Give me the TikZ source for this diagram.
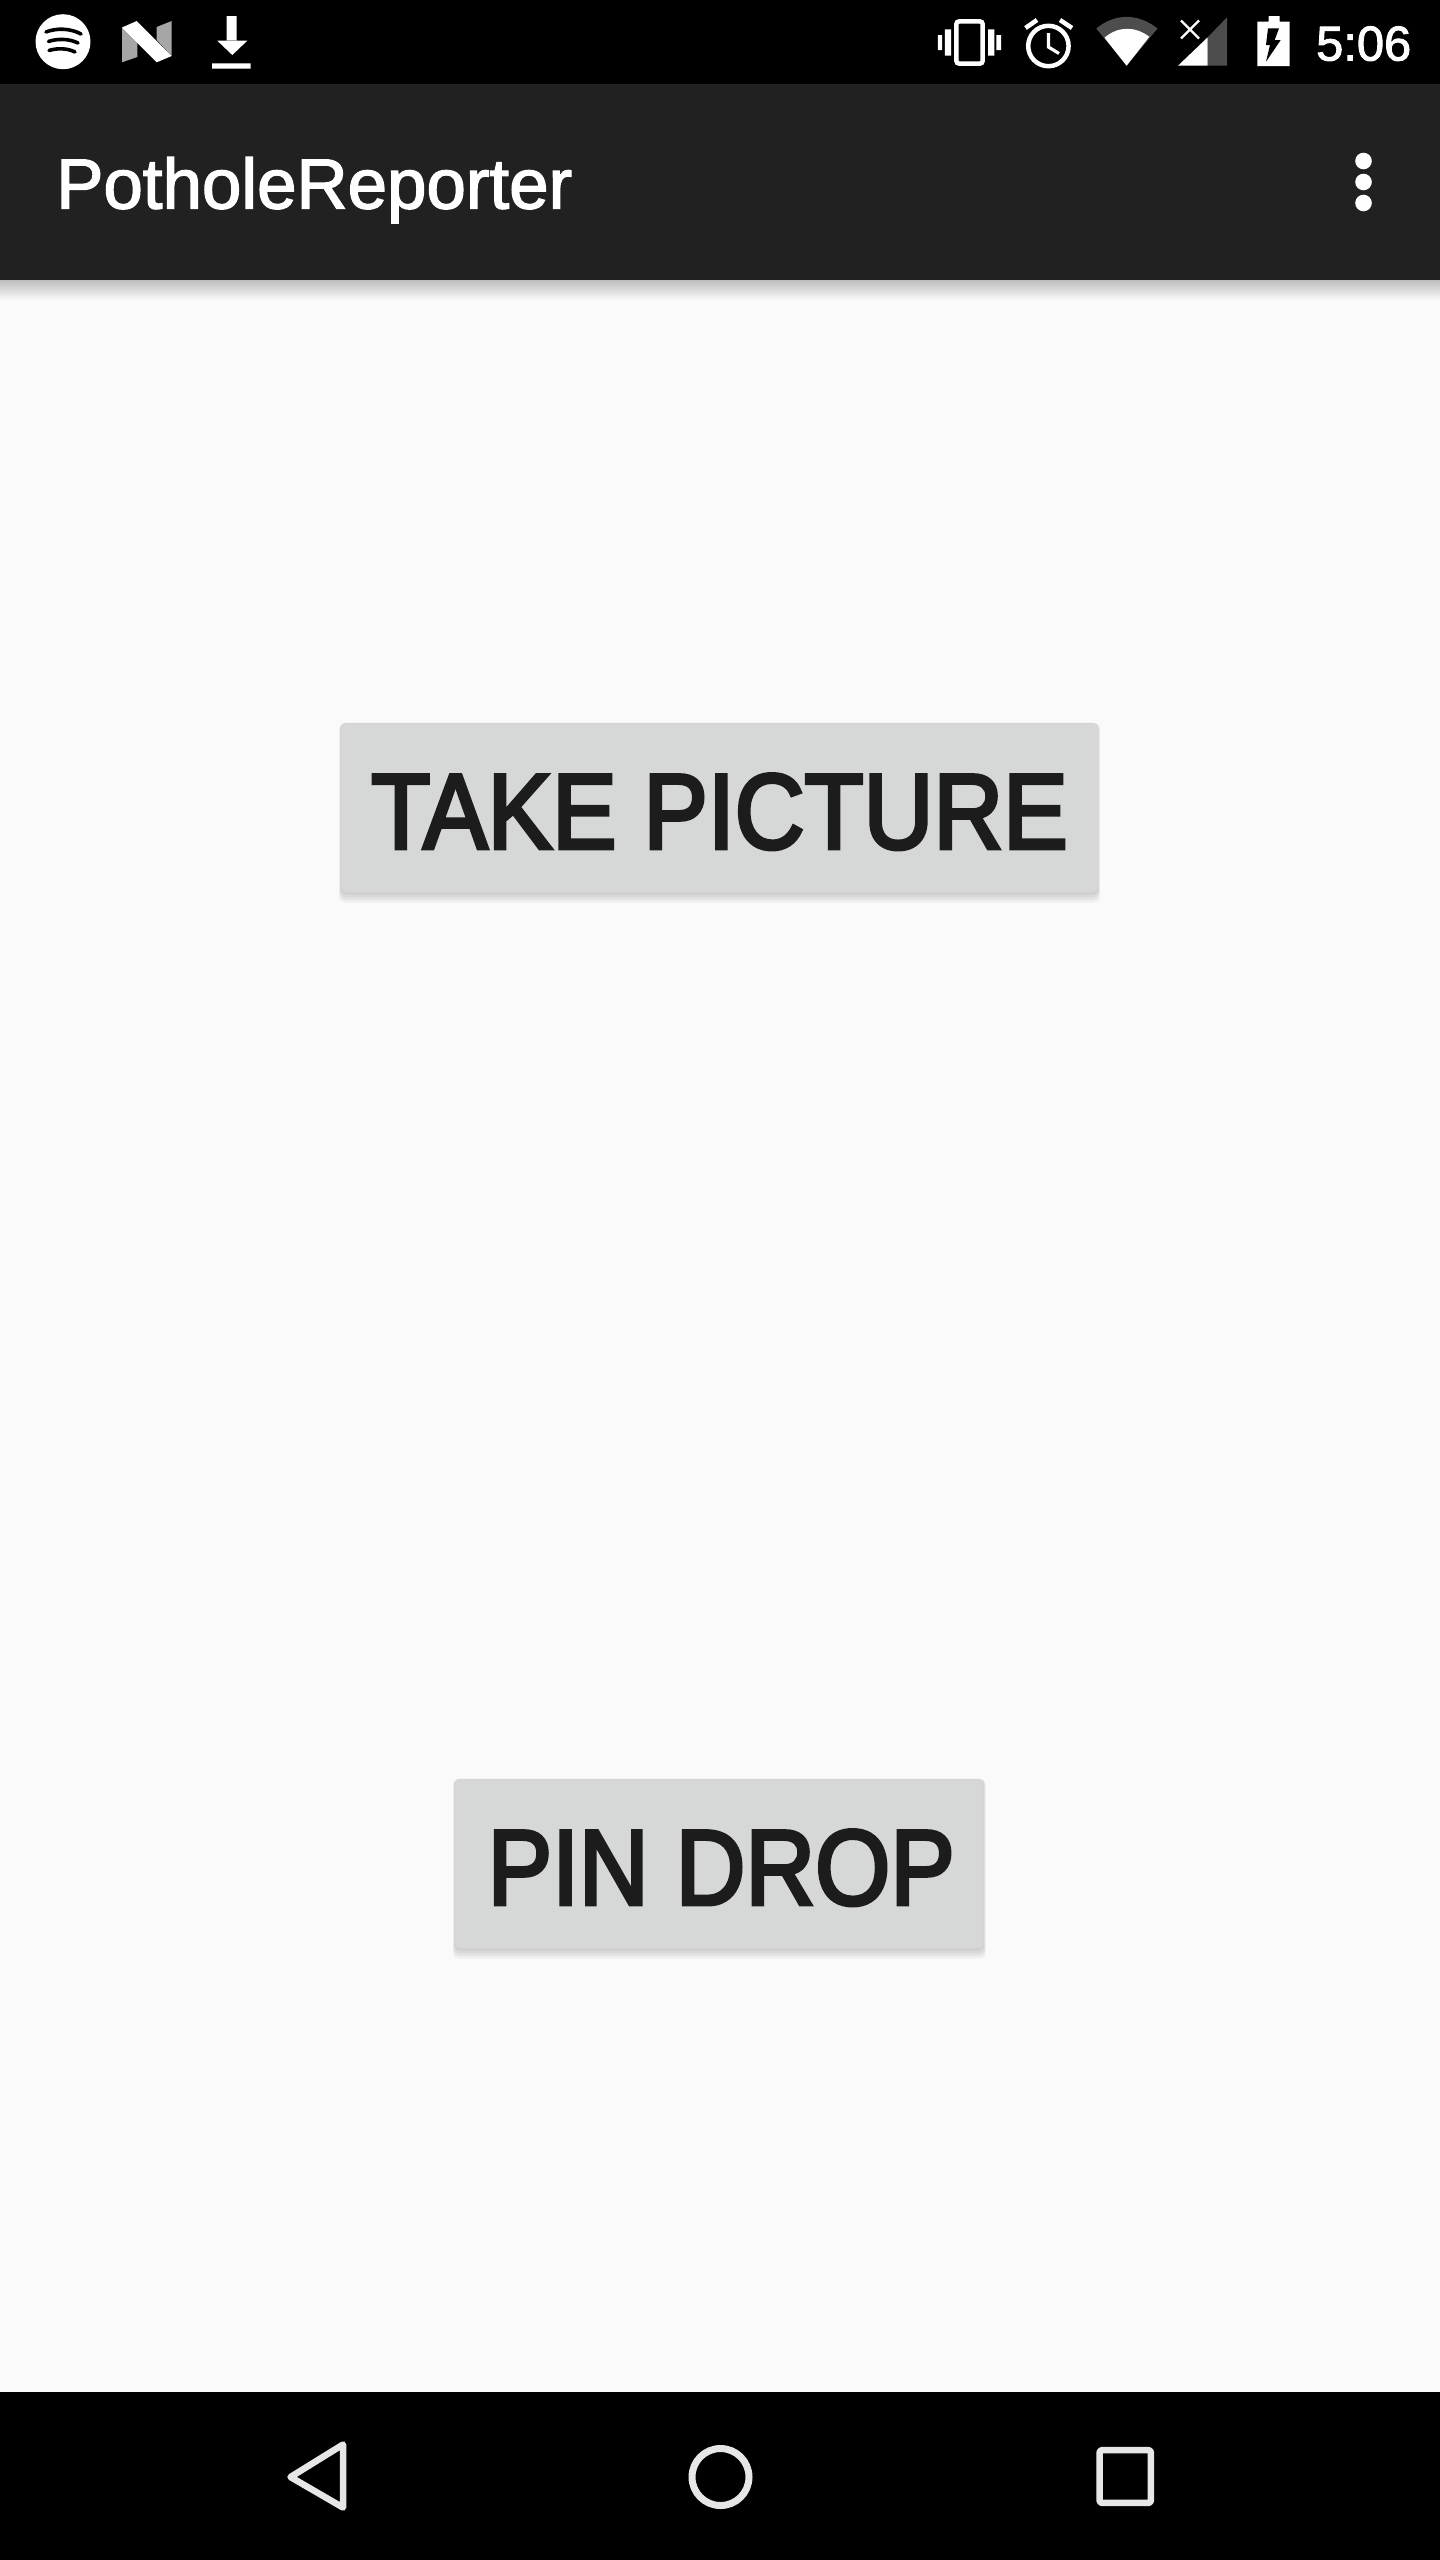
\documentclass[tikz,border=0pt]{standalone}
\usepackage{fontspec}
\usepackage{graphicx}
\setmainfont{Liberation Sans}
\newfontfamily\medfont[FakeBold=3.6]{Liberation Sans}
\newfontfamily\lightbold[FakeBold=2]{Liberation Sans}
\usetikzlibrary{calc}
\definecolor{bodybg}{HTML}{FAFAFA}
\definecolor{barbg}{HTML}{212121}
\definecolor{btnbg}{HTML}{D6D7D7}
\definecolor{btntxt}{HTML}{1C1C1C}
\definecolor{navicon}{HTML}{E6E6E6}
\definecolor{dimgray}{HTML}{4D4D4D}
\definecolor{ngray}{HTML}{A6A6A6}
\tikzset{
  x=1pt,y=-1pt,
  btnbox/.style={fill=btnbg,rounded corners=5pt,text height=125pt,text depth=43.5pt,inner sep=0pt,text=btntxt,anchor=base},
  icon/.style={draw=white,line width=4.5pt},
  navline/.style={draw=navicon,line width=6.5pt,line join=round},
}
\newcommand{\softshadow}[4]{%
  \foreach \g in {4,3,2,1}{
    \fill[black,opacity=0.045,rounded corners=6pt]
      ($(#1,#2)+(-\g*0.5,-\g*0.2)$) rectangle ($(#3,#4)+(\g*0.5,\g*2.5+0.5)$);
  }}
\begin{document}
\begin{tikzpicture}
\useasboundingbox (0,0) rectangle (1440,2560);
% backgrounds
\fill[bodybg] (0,0) rectangle (1440,2392);
\shade[top color=black!24!bodybg,bottom color=bodybg] (0,280) rectangle (1440,300);
\fill[barbg] (0,84) rectangle (1440,280);
\fill[black] (0,0) rectangle (1440,84);
\fill[black] (0,2392) rectangle (1440,2560);
% title and overflow
\node[anchor=base west,inner sep=0pt,text=white] (title) at (56,208.5)
  {\resizebox{516pt}{!}{\lightbold PotholeReporter}};
\foreach \y in {161,182,203}{\fill[white] (1363.5,\y) circle (8.3);}
% buttons
\softshadow{341.2}{723.5}{1097.8}{892}
\softshadow{455}{1779.5}{983.6}{1948}
\node[btnbox,minimum width=756.5pt] (take) at (719.5,848.5)
  {\resizebox{696pt}{74.5pt}{\medfont TAKE PICTURE}};
\node[btnbox,minimum width=528.6pt] (pin) at (719.3,1904.5)
  {\hspace*{4pt}\resizebox{467pt}{74.5pt}{\medfont PIN DROP}};
% Spotify
\fill[white] (63,41.7) circle (27.5);
\begin{scope}[draw=black,line width=3.6pt,line cap=round]
  \draw (46,32) .. controls (56,28) and (70,28) .. (81,34);
  \draw (48.5,41.5) .. controls (57,38.5) and (69,38.5) .. (78,43);
  \draw (49,50.5) .. controls (57,48) and (67,48) .. (75,52);
\end{scope}
% N logo
\fill[ngray] (122,27.5) -- (137.3,43) -- (137.3,57) -- (122,62.3) -- cycle;
\fill[ngray] (156.7,27) -- (171.7,21) -- (171.7,56) -- (156.7,40) -- cycle;
\fill[white] (122,27.5) -- (136.7,21) -- (171.7,56) -- (156.7,62.3) -- cycle;
% download
\fill[white] (226.7,16) rectangle (236.7,41)
  (217.3,40.7) -- (247.3,40.7) -- (232.3,55) -- cycle
  (212,63.3) rectangle (250.7,68.7);
% vibrate
\draw[icon,rounded corners=3pt] (956.3,21.3) rectangle (982.7,63.7);
\fill[white] (944.8,29.3) rectangle (951,55.7) (988.2,29.3) rectangle (994.4,55.7)
  (937.9,35) rectangle (942,50) (996.4,35) rectangle (1001.2,50);
% alarm
\draw[icon] (1048.4,46) circle (20.2);
\draw[draw=white,line width=3.2pt] (1048.4,33) -- (1048.4,47) -- (1059,53.5);
\draw[draw=white,line width=4.5pt] (1025.5,28) -- (1037,20);
\draw[draw=white,line width=4.5pt] (1060,20) -- (1072,28);
% wifi
\fill[dimgray] (1126.6,65.7) -- (1096.3,28.5) .. controls (1115,13) and (1138,13) .. (1157.5,28.5) -- cycle;
\fill[white] (1126.6,65.7) -- (1104.5,37.7) .. controls (1118,26) and (1135,26) .. (1149.3,36.7) -- cycle;
% signal
\fill[dimgray] (1207.5,65.7) -- (1227,65.7) -- (1227,17.3) -- (1207.5,37.5) -- cycle;
\fill[white] (1178,65.7) -- (1207.5,65.7) -- (1207.5,37.5) -- cycle;
\draw[draw=white,line width=2.2pt] (1181,20.5) -- (1199,38.5) (1199,20.5) -- (1181,38.5);
% battery
\fill[white] (1257.3,21.7) rectangle (1289.5,66) (1268.5,16) rectangle (1279.5,21.7);
\fill[black] (1268,28.3) -- (1279,28.3) -- (1274.7,40) -- (1280.7,40) -- (1266,61.7) -- (1270,45) -- (1266,45) -- cycle;
% time
\node[anchor=base west,inner sep=0pt,text=white] (clock) at (1316,60.5)
  {\resizebox{95pt}{!}{\lightbold 5:06}};
% navigation
\draw[navline] (343,2444.5) -- (290.5,2477) -- (343,2507.5) -- cycle;
\draw[draw=navicon,line width=7pt] (720.5,2477) circle (28.5);
\draw[navline,rounded corners=1.5pt] (1099.7,2450.2) rectangle (1150.8,2502.8);
\end{tikzpicture}
\end{document}
